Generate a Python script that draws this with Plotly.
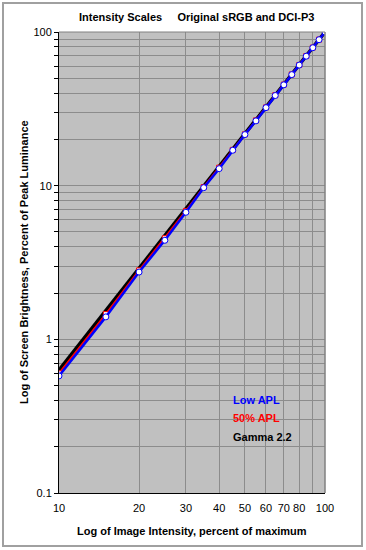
import plotly.graph_objects as go

# ---- data ----
intensity = [10, 15, 20, 25, 30, 35, 40, 45, 50, 55, 60, 65, 70, 75, 80, 85, 90, 95, 100]
low_apl = [0.578, 1.40, 2.74, 4.41, 6.71, 9.7, 12.9, 17.0, 21.5, 26.4, 32.2, 38.6, 45.3,
           52.8, 60.9, 69.6, 79.0, 89.1, 100]
apl_50 = [0.60, 1.46, 2.81, 4.55, 6.85, 9.8, 13.1, 17.1, 21.6, 26.6, 32.3, 38.8, 45.5,
          53.0, 61.0, 69.8, 79.2, 89.2, 100]
gamma_22 = [0.631, 1.54, 2.90, 4.74, 7.07, 9.93, 13.32, 17.26, 21.76, 26.84, 32.50, 38.76,
            45.63, 53.11, 61.21, 69.94, 79.31, 89.33, 100]

x_tick_vals = [10, 20, 30, 40, 50, 60, 70, 80, 90, 100]
x_tick_text = ["10", "20", "30", "40", "50", "60", "70", "80", "", "100"]
y_tick_vals = [m * 10 ** e for e in (-1, 0, 1) for m in range(1, 10)] + [100]
y_tick_text = [("0.1" if v == 0.1 else "1" if v == 1 else "10" if v == 10 else "100" if v == 100 else "")
               for v in y_tick_vals]

FONT = "Liberation Sans, Arial, sans-serif"

fig = go.Figure()
fig.add_trace(go.Scatter(x=intensity, y=gamma_22, mode="lines",
                         line=dict(color="black", width=3.5), name="Gamma 2.2"))
fig.add_trace(go.Scatter(x=intensity, y=apl_50, mode="lines+markers",
                         line=dict(color="red", width=2),
                         marker=dict(symbol="square", size=5, color="white",
                                     line=dict(color="red", width=1)), name="50% APL"))
fig.add_trace(go.Scatter(x=intensity, y=low_apl, mode="lines+markers",
                         line=dict(color="blue", width=2.5),
                         marker=dict(symbol="circle", size=6, color="white",
                                     line=dict(color="blue", width=1)), name="Low APL"))

W, H = 366, 550
L, R, T, B = 59, 41, 32, 57
pw, ph = W - L - R, H - T - B

def px(xp):
    return (xp - L) / pw

def py(yp):
    return (H - B - yp) / ph

def ann(text, x, y, color="black", xanchor="center", angle=0):
    return dict(text=text, xref="paper", yref="paper", x=px(x), y=py(y),
                xanchor=xanchor, yanchor="middle", showarrow=False, textangle=angle,
                font=dict(size=11, color=color))

fig.update_layout(
    width=W, height=H,
    margin=dict(l=L, r=R, t=T, b=B, pad=0),
    paper_bgcolor="white",
    plot_bgcolor="#C0C0C0",
    showlegend=False,
    font=dict(family=FONT, size=11, color="black"),
    xaxis=dict(type="log", range=[1, 2], tickvals=x_tick_vals, ticktext=x_tick_text,
               showgrid=True, gridcolor="#8C8C8C", gridwidth=1,
               showline=True, linecolor="black", linewidth=1,
               ticks="outside", ticklen=5, tickcolor="rgba(0,0,0,0)", zeroline=False,
               tickfont=dict(family=FONT, size=11)),
    yaxis=dict(type="log", range=[-1, 2], tickvals=y_tick_vals, ticktext=y_tick_text,
               showgrid=True, gridcolor="#8C8C8C", gridwidth=1,
               showline=True, linecolor="black", linewidth=1,
               ticks="outside", ticklen=4, tickcolor="black",
               zeroline=False, tickfont=dict(family=FONT, size=11)),
    shapes=[
        dict(type="line", xref="paper", yref="paper", x0=0, x1=1, y0=1, y1=1,
             line=dict(color="#808080", width=1)),
        dict(type="line", xref="paper", yref="paper", x0=1, x1=1, y0=0, y1=1,
             line=dict(color="#808080", width=1.5)),
        dict(type="rect", xref="paper", yref="paper",
             x0=px(3), x1=px(362), y0=py(546), y1=py(3),
             line=dict(color="#A0A0A0", width=2)),
    ],
    annotations=[
        ann("<b>Intensity Scales     Original sRGB and DCI-P3</b>", 196, 17),
        ann("<b>Log of Image Intensity, percent of maximum</b>", 192, 531),
        ann("<b>Log of Screen Brightness, Percent of Peak Luminance</b>", 24, 262, angle=-90),
        ann("<b>Low APL</b>", 231, 400, color="blue", xanchor="left"),
        ann("<b>50% APL</b>", 231, 418, color="red", xanchor="left"),
        ann("<b>Gamma 2.2</b>", 231, 437, color="black", xanchor="left"),
    ],
)

fig.write_html("out.html", config={"displayModeBar": False},
               post_script="document.body.style.margin='0px';")
